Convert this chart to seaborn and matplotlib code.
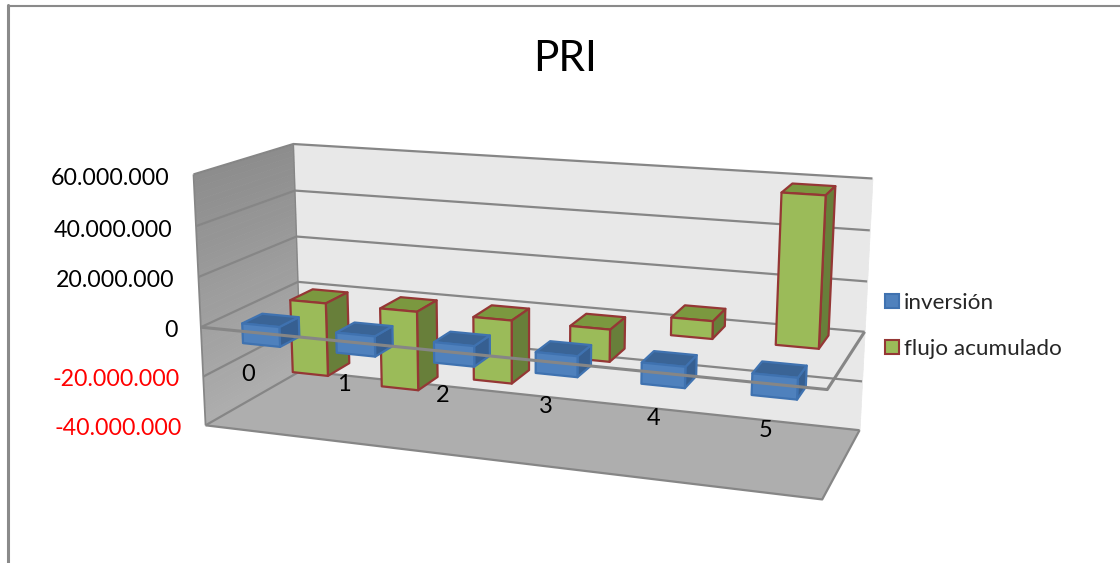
import numpy as np
import pandas as pd
import matplotlib
matplotlib.use("Agg")
import matplotlib.pyplot as plt
from matplotlib.lines import Line2D
from matplotlib.patches import Patch
from mpl_toolkits.mplot3d import proj3d
from mpl_toolkits.mplot3d.art3d import Poly3DCollection, Line3DCollection
import seaborn as sns

# Payback table
periods = ["0", "1", "2", "3", "4", "5"]
inversion = [-8000000, -8000000, -8000000, -8000000, -8000000, -8000000]
flujo_acumulado = [-31000000, -33000000, -26000000, -13000000, 7000000, 58000000]
series_names = ["inversión", "flujo acumulado"]
value_ticks = [60000000, 40000000, 20000000, 0, -20000000, -40000000]
value_labels = ["60.000.000", "40.000.000", "20.000.000", "0", "-20.000.000", "-40.000.000"]
chart_title = "PRI"

sns.set_theme(style="white", font="Lato")
plt.rcParams["font.family"] = ["Lato", "DejaVu Sans"]

table = pd.DataFrame({"periodo": periods, series_names[0]: inversion, series_names[1]: flujo_acumulado})

WIDTH, HEIGHT = 1120, 563
GREY = "#868686"
Z_MIN, Z_MAX = -40e6, 60e6
N = len(periods)


def fit_camera(world, screen):
    """Least-squares 3x4 camera matrix from world/pixel pairs, as a 4x4 for Axes3D."""
    world = np.array(world, dtype=float)
    scale = np.array([1.0 / N, 1.0, 1e-8])
    rows = []
    for w, (u, v) in zip(world * scale, screen):
        p = [w[0], w[1], w[2], 1.0]
        rows.append(p + [0, 0, 0, 0] + [-u * c for c in p])
        rows.append([0, 0, 0, 0] + p + [-v * c for c in p])
    _, _, vt = np.linalg.svd(np.array(rows))
    cam = vt[-1].reshape(3, 4)
    cam /= cam[2, 3]
    cam[:, :3] *= scale
    depth = np.array([0.0, 1.0, 0.0, 0.0])
    return np.vstack([cam[0], cam[1], depth, cam[2]])


# Box corners of the plot: (category axis, depth, value) -> pixel
anchors = [
    ((0, 0, 60e6), (193, 174)), ((0, 0, 40e6), (195, 227)), ((0, 0, 20e6), (199, 276)),
    ((0, 0, 0), (202, 327)), ((0, 0, -20e6), (203, 375)), ((0, 0, -40e6), (206, 425)),
    ((0, 1, 60e6), (294, 144)), ((0, 1, 0), (298, 282)), ((0, 1, -40e6), (300, 373)),
    ((N, 1, 60e6), (873, 179)), ((N, 1, 40e6), (870, 230)), ((N, 1, 20e6), (867, 282)),
    ((N, 1, 0), (864, 331)), ((N, 1, -20e6), (862, 381)), ((N, 1, -40e6), (860, 428)),
    ((N, 0, 0), (826, 391)), ((N, 0, -40e6), (823, 501)),
]
camera = fit_camera([a[0] for a in anchors], [a[1] for a in anchors])

fig = plt.figure(figsize=(WIDTH / 100, HEIGHT / 100), dpi=100, facecolor="white")
ax = fig.add_axes([0, 0, 1, 1], projection="3d", computed_zorder=False)
ax.set_axis_off()
ax.get_proj = lambda: camera
ax.apply_aspect = lambda position=None: None
# The projected plane is addressed in pixels, origin at the top left
ax.viewLim.intervalx = (0, WIDTH)
ax.viewLim.intervaly = (HEIGHT, 0)


def face(points, color, zorder, edge="none", lw=0):
    ax.add_collection3d(Poly3DCollection([points], facecolors=color, edgecolors=edge,
                                         linewidths=lw, zorder=zorder))


def polyline(points, lw, zorder):
    ax.add_collection3d(Line3DCollection([points], colors=GREY, linewidths=lw, zorder=zorder))


def label_at(x, y, z, text, **kwargs):
    """Place a flat label at the projected position of a world point."""
    px, py, _ = proj3d.proj_transform(x, y, z, camera)
    fig.text(float(px) / WIDTH, 1 - float(py) / HEIGHT, text, va="center", **kwargs)


def shade(c0, c1, t):
    return tuple(np.array(c0) * (1 - t) + np.array(c1) * t)


# Walls as thin horizontal strips to carry the vertical shading
levels = np.linspace(Z_MIN, Z_MAX, 41)
for a, b in zip(levels[:-1], levels[1:]):
    t = (a - Z_MIN) / (Z_MAX - Z_MIN)
    left = shade((0.68, 0.68, 0.68), (0.55, 0.55, 0.55), t)
    back = (0.91, 0.91, 0.91)
    face([(0, 0, a), (0, 1, a), (0, 1, b), (0, 0, b)], left, 1, left, 0.5)
    face([(0, 1, a), (N, 1, a), (N, 1, b), (0, 1, b)], back, 1, back, 0.5)
face([(0, 0, Z_MIN), (N, 0, Z_MIN), (N, 1, Z_MIN), (0, 1, Z_MIN)], "#aeaeae", 1)

# Gridlines and box outline
for v in value_ticks:
    polyline([(0, 0, v), (0, 1, v), (N, 1, v)], 1.6, 2)
polyline([(0, 0, Z_MIN), (0, 0, Z_MAX)], 1.3, 2)
polyline([(0, 1, Z_MIN), (0, 1, Z_MAX)], 1.0, 2)
polyline([(0, 0, Z_MIN), (N, 0, Z_MIN), (N, 1, Z_MIN)], 1.6, 2)

palette = sns.color_palette(["#4F81BD", "#9BBB59"])
HIDDEN = (0, 0, 0, 0)
# Face order of bar3d: bottom, top, front, back, left, right
BLUE_FACES = [HIDDEN, "#3A6496", "#4F81BD", HIDDEN, HIDDEN, "#365F91"]
GREEN_FACES = [HIDDEN, "#7B983F", "#9BBB59", HIDDEN, HIDDEN, "#687F3A"]
EDGES = ["#3F72B0", "#953735"]
bar_width = 0.4
depth_spans = [(0.13, 0.2), (0.625, 0.25)]


def draw_bars(values, faces, edge, span, zorder):
    edges = [HIDDEN, edge, edge, HIDDEN, HIDDEN, edge]
    for i, v in enumerate(values):
        ax.bar3d([i + 0.5 - bar_width / 2], [span[0]], [min(v, 0)], bar_width, span[1], abs(v),
                 color=faces, edgecolor=edges, linewidth=1.6, shade=False, zorder=zorder)


draw_bars(table[series_names[1]], GREEN_FACES, EDGES[1], depth_spans[1], 3)
draw_bars(table[series_names[0]], BLUE_FACES, EDGES[0], depth_spans[0], 4)
# Zero plane outline passes in front of both rows
polyline([(0, 0, 0), (N, 0, 0), (N, 1, 0)], 2.2, 5)

# Axis labels
for v, s in zip(value_ticks, value_labels):
    label_at(-0.26, 0, v - 2.3e6, s, ha="right", fontsize=16.7,
             color="#ff0000" if v < 0 else "black")
for i, s in enumerate(periods):
    label_at(i + 0.49, 0, -17e6, s, ha="center", fontsize=17, color="black")

fig.text(565 / WIDTH, 1 - 59 / HEIGHT, chart_title, ha="center", va="center", fontsize=30.5, color="black")

handles = [Patch(facecolor=palette[0], edgecolor=EDGES[0], lw=1.5),
           Patch(facecolor=palette[1], edgecolor=EDGES[1], lw=1.5)]
fig.legend(handles, series_names, loc="center left", bbox_to_anchor=(885 / WIDTH, 1 - 326 / HEIGHT),
           frameon=False, fontsize=16.2, handlelength=0.6, handleheight=0.6, handletextpad=0.25,
           labelspacing=1.15, borderpad=0, borderaxespad=0)

# Chart frame, cut by the image edge on the other two sides
fig.add_artist(Line2D([7.5 / WIDTH, 1], [1 - 5.5 / HEIGHT, 1 - 5.5 / HEIGHT], color="#8a8a8a", lw=1.5))
fig.add_artist(Line2D([7.5 / WIDTH, 7.5 / WIDTH], [1 - 5 / HEIGHT, 0], color="#8a8a8a", lw=2.2))

fig.savefig("out.png", dpi=100, facecolor="white")
